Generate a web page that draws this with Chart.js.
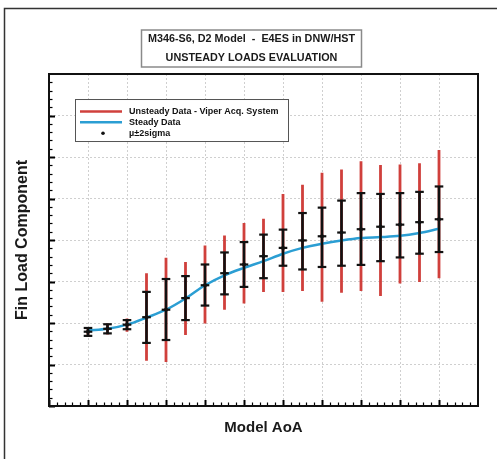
<!DOCTYPE html>
<html><head><meta charset="utf-8">
<script src="https://cdn.jsdelivr.net/npm/chart.js@4.4.0/dist/chart.umd.min.js"></script>
<style>html,body{margin:0;padding:0;background:#fff;}canvas{display:block;}</style>
</head><body>
<canvas id="c" width="497" height="459"></canvas>
<script>
// ---- data ----
const aoa = [1,1.5,2,2.5,3,3.5,4,4.5,5,5.5,6,6.5,7,7.5,8,8.5,9,9.5,10];
const unsteadyMin = [1.66,1.72,1.79,1.09,1.06,1.71,1.99,2.32,2.47,2.75,2.75,2.77,2.51,2.73,2.77,2.65,2.95,2.99,3.08];
const unsteadyMax = [1.90,1.99,2.11,3.20,3.57,3.47,3.87,4.11,4.41,4.51,5.11,5.33,5.62,5.70,5.90,5.81,5.82,5.85,6.17];
const sigmaLow    = [1.69,1.75,1.85,1.52,1.59,2.07,2.42,2.69,2.87,3.08,3.38,3.29,3.35,3.38,3.40,3.49,3.58,3.67,3.71];
const sigmaHigh   = [1.88,1.97,2.07,2.75,3.06,3.13,3.41,3.70,3.95,4.13,4.25,4.65,4.78,4.95,5.13,5.11,5.13,5.16,5.29];
const meanValue   = [1.79,1.86,1.96,2.14,2.32,2.60,2.91,3.20,3.41,3.61,3.81,3.99,4.09,4.18,4.26,4.32,4.37,4.43,4.50];
const steadyValue = [1.82,1.86,1.96,2.13,2.32,2.59,2.91,3.15,3.33,3.49,3.67,3.81,3.91,3.99,4.05,4.07,4.10,4.17,4.27];
const titleLines = ['M346-S6, D2 Model  -  E4ES in DNW/HST', 'UNSTEADY LOADS EVALUATION'];
const seriesNames = ['Unsteady Data - Viper Acq. System', 'Steady Data', '\u00b5\u00b12sigma'];
const xAxisTitle = 'Model AoA';
const yAxisTitle = 'Fin Load Component';
const xRange = [0, 11];
const yRange = [0, 8];

const RED = '#d0403c', BLUE = '#2b9ed3', BLACK = '#111';
const FONT = "'Liberation Sans', Arial, sans-serif";

function segments(lo, hi) {
  return aoa.flatMap((x, i) => [{x, y: lo[i]}, {x, y: hi[i]}, {x, y: null}]);
}
function pts(vals) { return aoa.map((x, i) => ({x, y: vals[i]})); }

const decor = {
  id: 'decor',
  afterDatasetsDraw(chart) {
    const {ctx, chartArea: a, scales: {x, y}} = chart;
    ctx.save();
    ctx.strokeStyle = '#000';
    // inward minor/major ticks on left and bottom
    for (let k = 0; k < (yRange[1] - yRange[0]) * 5; k++) {
      const py = Math.round(y.getPixelForValue(yRange[0] + k * 0.2)) + 0.5;
      const major = k % 5 === 0;
      ctx.lineWidth = major ? 2 : 1.2;
      ctx.beginPath(); ctx.moveTo(a.left, py); ctx.lineTo(a.left + (major ? 6 : 3.5), py); ctx.stroke();
    }
    for (let k = 0; k < (xRange[1] - xRange[0]) * 5; k++) {
      const px = Math.round(x.getPixelForValue(xRange[0] + k * 0.2)) + 0.5;
      const major = k % 5 === 0;
      ctx.lineWidth = major ? 2 : 1.2;
      ctx.beginPath(); ctx.moveTo(px, a.bottom); ctx.lineTo(px, a.bottom - (major ? 6 : 3.5)); ctx.stroke();
    }
    // plot frame
    ctx.lineWidth = 2;
    ctx.strokeStyle = '#111';
    ctx.strokeRect(a.left, a.top, a.right - a.left, a.bottom - a.top);

    // legend box
    const lx = a.left + 26, ly = a.top + 25, lw = 213, lh = 42;
    ctx.fillStyle = '#fff';
    ctx.fillRect(lx, ly, lw, lh);
    ctx.lineWidth = 1;
    ctx.strokeStyle = '#555';
    ctx.strokeRect(lx + 0.5, ly + 0.5, lw, lh);
    const rows = [ly + 12.5, ly + 23.3, ly + 34.3];
    ctx.lineWidth = 2.5;
    ctx.strokeStyle = RED;
    ctx.beginPath(); ctx.moveTo(lx + 5, rows[0]); ctx.lineTo(lx + 47, rows[0]); ctx.stroke();
    ctx.strokeStyle = BLUE;
    ctx.beginPath(); ctx.moveTo(lx + 5, rows[1]); ctx.lineTo(lx + 47, rows[1]); ctx.stroke();
    ctx.fillStyle = BLACK;
    ctx.beginPath(); ctx.arc(lx + 28, rows[2], 1.8, 0, Math.PI * 2); ctx.fill();
    ctx.font = 'bold 9px ' + FONT;
    ctx.textBaseline = 'middle';
    ctx.textAlign = 'left';
    seriesNames.forEach((s, i) => ctx.fillText(s, lx + 54, rows[i]));
    ctx.restore();
  },
  afterDraw(chart) {
    const {ctx} = chart;
    const tb = chart.titleBlock;
    ctx.save();
    const cx = (tb.left + tb.right) / 2;
    ctx.lineWidth = 1.5;
    ctx.strokeStyle = '#8a8a8a';
    ctx.strokeRect(cx - 110, tb.top + 30, 220, 37);
    // outer frame (left & top)
    ctx.strokeStyle = '#333';
    ctx.lineWidth = 1.5;
    ctx.beginPath(); ctx.moveTo(4.5, 459); ctx.lineTo(4.5, 8.5); ctx.lineTo(497, 8.5); ctx.stroke();
    ctx.restore();
  }
};

new Chart(document.getElementById('c'), {
  type: 'line',
  data: {
    datasets: [
      { label: 'caps', data: [...pts(sigmaHigh), ...pts(sigmaLow), ...pts(meanValue)], showLine: false,
        pointStyle: 'line', pointRadius: 4.3, pointBorderWidth: 2.2, pointBorderColor: BLACK, borderColor: BLACK, order: 1 },
      { label: 'mean', data: pts(meanValue), showLine: false, pointStyle: 'circle', pointRadius: 2,
        pointBackgroundColor: BLACK, pointBorderWidth: 0, order: 2 },
      { label: seriesNames[2], data: segments(sigmaLow, sigmaHigh), borderColor: BLACK, borderWidth: 2.6,
        pointRadius: 0, spanGaps: false, tension: 0, order: 3 },
      { label: seriesNames[1], data: pts(steadyValue), borderColor: BLUE, borderWidth: 2.5, pointRadius: 0,
        cubicInterpolationMode: 'monotone', tension: 0.4, order: 4 },
      { label: seriesNames[0], data: segments(unsteadyMin, unsteadyMax), borderColor: RED, borderWidth: 2.8,
        pointRadius: 0, spanGaps: false, tension: 0, order: 5 }
    ]
  },
  options: {
    responsive: false,
    animation: false,
    devicePixelRatio: 1,
    layout: { padding: { left: 6, right: 0, top: 0, bottom: 0 } },
    plugins: {
      legend: { display: false },
      tooltip: { enabled: false },
      title: {
        display: true, text: titleLines, color: '#1a1a1a',
        font: { family: FONT, size: 10.8, weight: 'bold', lineHeight: 1.806 },
        padding: { top: 29, bottom: 6 }
      }
    },
    scales: {
      x: {
        type: 'linear', min: xRange[0], max: xRange[1],
        ticks: { display: false, stepSize: 1 },
        grid: { color: '#cfcfcf', lineWidth: 1, drawTicks: false },
        border: { display: true, color: '#111', width: 2, dash: [2, 2] },
        title: { display: true, text: xAxisTitle, color: '#1a1a1a',
          font: { family: FONT, size: 15, weight: 'bold', lineHeight: 1.2 }, padding: { top: 0, bottom: 22 } },
        afterFit: (s) => { s.height = 53; }
      },
      y: {
        type: 'linear', position: 'left', min: yRange[0], max: yRange[1],
        ticks: { display: false, stepSize: 1 },
        grid: { color: '#cfcfcf', lineWidth: 1, drawTicks: false },
        border: { display: true, color: '#111', width: 2, dash: [2, 2] },
        title: { display: true, text: yAxisTitle, color: '#1a1a1a',
          font: { family: FONT, size: 16, weight: 'bold', lineHeight: 1.2 }, padding: { top: 7, bottom: 0 } },
        afterFit: (s) => { s.width = 43; }
      },
      y2: {
        type: 'linear', position: 'right', min: yRange[0], max: yRange[1],
        ticks: { display: false }, grid: { display: false, drawTicks: false }, border: { display: false },
        afterFit: (s) => { s.width = 19; }
      }
    }
  },
  plugins: [decor]
});
</script>
</body></html>
